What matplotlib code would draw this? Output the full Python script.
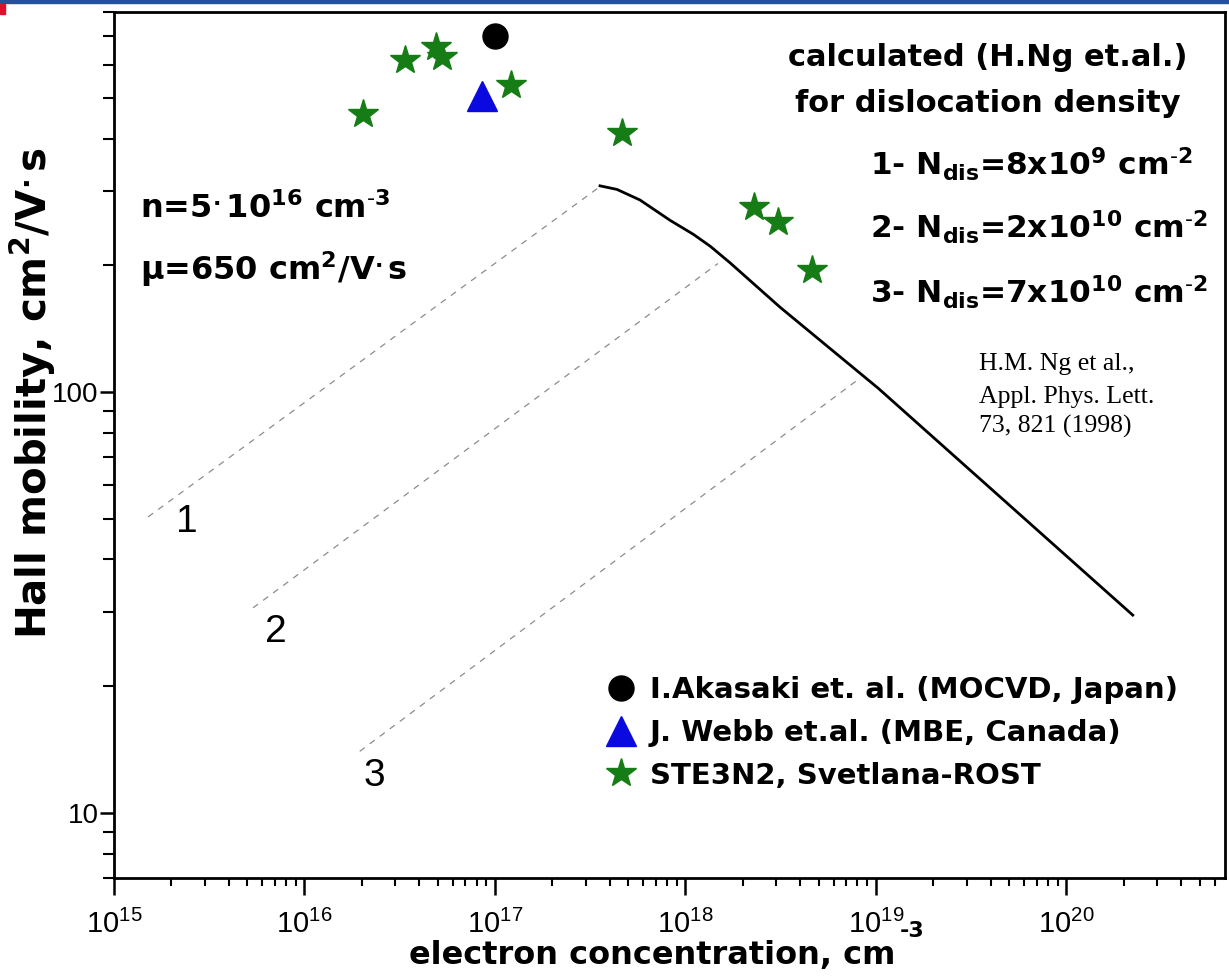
import matplotlib
matplotlib.use("Agg")
import matplotlib.pyplot as plt
from matplotlib.font_manager import FontProperties
from matplotlib.patches import Rectangle
from matplotlib.ticker import LogLocator, NullFormatter, LogFormatterMathtext, FuncFormatter

plt.rcParams["font.family"] = ["Liberation Sans", "DejaVu Sans"]
plt.rcParams["mathtext.default"] = "regular"

BOLD = dict(family="DejaVu Sans", fontweight="bold")

# ---------------------------------------------------------------------------
# data (n in cm^-3, mu in cm^2/Vs)
# ---------------------------------------------------------------------------
akasaki_n = [1.0e17]
akasaki_mu = [700]
webb_n = [8.5e16]
webb_mu = [505]
ste_n = [2.03e16, 3.37e16, 4.9e16, 5.27e16, 1.21e17, 4.65e17, 2.29e18, 3.06e18, 4.61e18]
ste_mu = [457, 615, 659, 625, 536, 412, 275, 253, 195]

# calculated curve (H.Ng et al.)
calc_n = [3.56e17, 4.37e17, 5.77e17, 8.29e17, 1.1e18, 1.35e18, 1.71e18, 3.14e18, 1.03e19, 2.23e20]
calc_mu = [309, 303, 286, 256, 237, 222, 203, 159, 102, 29.5]

# dislocation density guide lines 1..3
guide_n = [[1.51e15, 3.5e17], [5.37e15, 1.48e18], [1.95e16, 8.05e18]]
guide_mu = [[50.5, 306], [30.7, 202], [14.0, 107]]
guide_names = ["1", "2", "3"]
guide_label_n = [2.42e15, 7.08e15, 2.34e16]
guide_label_mu = [49, 26.9, 12.2]

legend_labels = ["I.Akasaki et. al. (MOCVD, Japan)",
                 "J. Webb et.al. (MBE, Canada)",
                 "STE3N2, Svetlana-ROST"]

W, H = 1229, 980


def fx(px):
    return px / W


def fy(py):
    return 1 - py / H


fig = plt.figure(figsize=(W / 100, H / 100), dpi=100)
ax = fig.add_axes([fx(114), fy(878), fx(1225) - fx(114), fy(12) - fy(878)])
ax.set_xscale("log")
ax.set_yscale("log")

for xs, ys, name, lx, ly in zip(guide_n, guide_mu, guide_names, guide_label_n, guide_label_mu):
    ax.plot(xs, ys, color="#8c8c8c", lw=0.9, ls=(0, (5, 5)))
    ax.text(lx, ly, name, fontsize=28, ha="center", va="center")

ax.plot(calc_n, calc_mu, color="black", lw=2.0, zorder=3)
ax.plot(akasaki_n, akasaki_mu, "o", ms=18, color="black", label=legend_labels[0], zorder=4)
ax.plot(webb_n, webb_mu, "^", ms=21, color="#0a0ae0", label=legend_labels[1], zorder=4)
ax.plot(ste_n, ste_mu, "*", ms=22, color="#167d16", label=legend_labels[2], zorder=4)

ax.set_xlim(1e15, 6.8e20)
ax.set_ylim(7.0, 800)

ax.xaxis.set_major_locator(LogLocator(base=10, numticks=20))
ax.xaxis.set_minor_locator(LogLocator(base=10, subs=range(2, 10), numticks=50))
ax.xaxis.set_major_formatter(LogFormatterMathtext())
ax.xaxis.set_minor_formatter(NullFormatter())
ax.yaxis.set_major_locator(LogLocator(base=10, numticks=20))
ax.yaxis.set_minor_locator(LogLocator(base=10, subs=range(2, 10), numticks=50))
ax.yaxis.set_major_formatter(FuncFormatter(lambda v, p: f"{v:g}"))
ax.yaxis.set_minor_formatter(NullFormatter())

for s in ax.spines.values():
    s.set_linewidth(2.0)
ax.tick_params(axis="x", which="major", length=12, width=1.8, pad=11, labelsize=21)
ax.tick_params(axis="x", which="minor", length=6, width=1.5)
ax.tick_params(axis="y", which="major", length=10, width=1.8, pad=1, labelsize=20)
ax.tick_params(axis="y", which="minor", length=8, width=1.5)

ax.set_xlabel("electron concentration, cm", fontsize=23, **BOLD)
ax.xaxis.set_label_coords(0.484, -0.072)
fig.text(fx(900), fy(937), "-3", fontsize=16, va="baseline", **BOLD)
ax.set_ylabel("Hall mobility, cm$^{2}$/V$^{.}$s", fontsize=29, **BOLD)
ax.yaxis.set_label_coords(-0.0504, 0.56)

ax.legend(loc="center left", bbox_to_anchor=(fx(606), fy(733)), bbox_transform=fig.transFigure,
          frameon=False, prop=FontProperties(family="DejaVu Sans", weight="bold", size=21),
          handlelength=1.0, handletextpad=0.5, labelspacing=0.5, borderpad=0,
          borderaxespad=0, numpoints=1)

# sample parameters
fig.text(fx(140), fy(218), "n=5$^{.}$10$^{16}$ cm$^{\\text{-}3}$", fontsize=23, va="baseline", **BOLD)
fig.text(fx(140), fy(280), "\u03bc=650 cm$^{2}$/V$^{.}$s", fontsize=23, va="baseline", **BOLD)

# calculation note
fig.text(fx(988), fy(66), "calculated (H.Ng et.al.)", fontsize=22, ha="center", va="baseline", **BOLD)
fig.text(fx(988), fy(112), "for dislocation density", fontsize=22, ha="center", va="baseline", **BOLD)
ndis = ["1- N$_{dis}$=8x10$^{9}$ cm$^{\\text{-}2}$",
        "2- N$_{dis}$=2x10$^{10}$ cm$^{\\text{-}2}$",
        "3- N$_{dis}$=7x10$^{10}$ cm$^{\\text{-}2}$"]
for txt, base in zip(ndis, [175, 238, 303]):
    fig.text(fx(870), fy(base), txt, fontsize=22.5, va="baseline", **BOLD)

ref = ["H.M. Ng et al.,", "Appl. Phys. Lett.", "73, 821 (1998)"]
for txt, base in zip(ref, [370, 403, 433]):
    fig.text(fx(979), fy(base), txt, fontsize=18.5, family="Liberation Serif", va="baseline")

# slide frame remnants
fig.patches.append(Rectangle((0, fy(3)), 1, 3 / H, transform=fig.transFigure,
                             color="#24519b", zorder=10))
fig.patches.append(Rectangle((0, fy(14)), 5 / W, 10 / H, transform=fig.transFigure,
                             color="#e0102a", zorder=10))

fig.savefig("out.png", dpi=100)
